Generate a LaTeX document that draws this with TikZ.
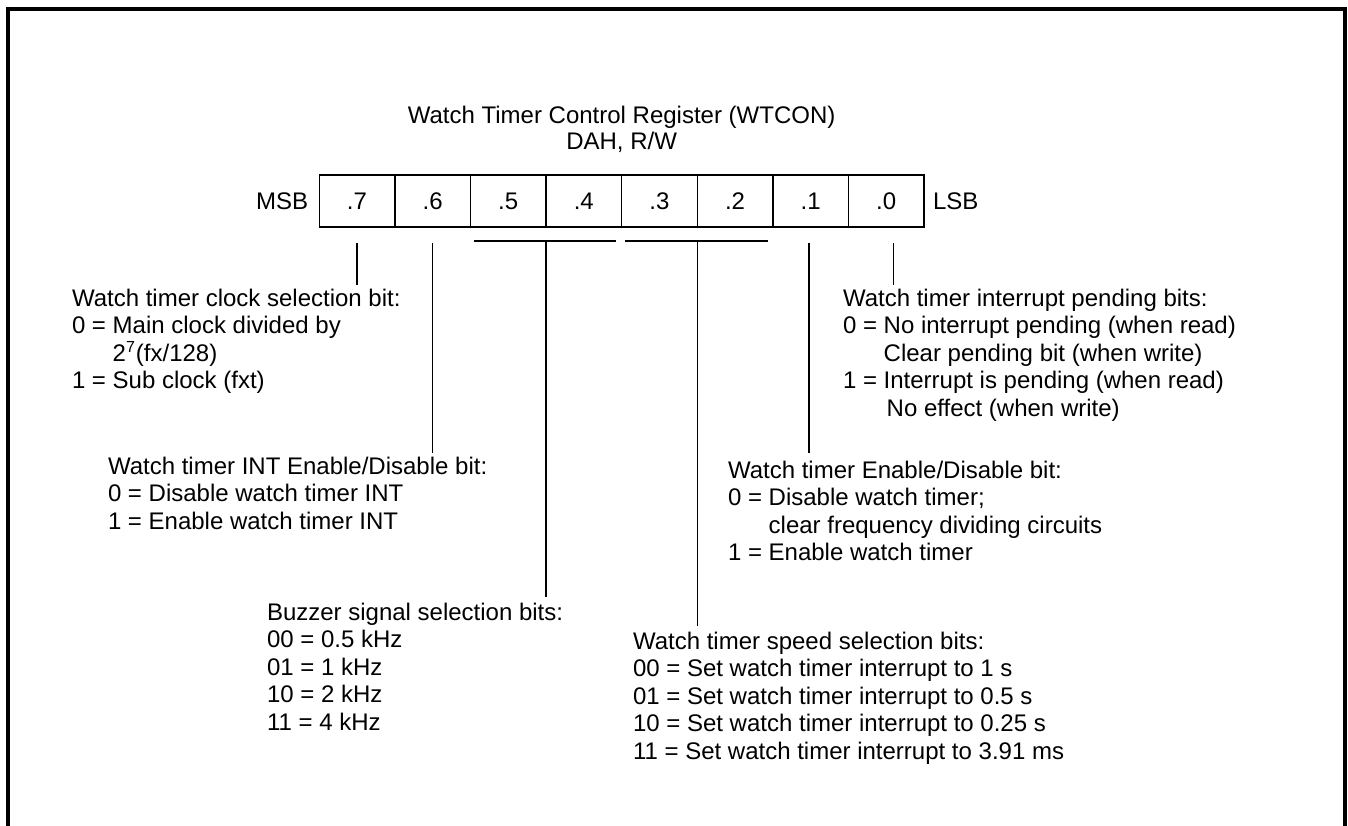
\documentclass[tikz,border=0pt]{standalone}
\usepackage{fontspec}
\setmainfont{Liberation Sans}
\usetikzlibrary{positioning}

\begin{document}
\begin{tikzpicture}[
    x=0.5pt, y=-0.5pt,
    bitcell/.style={draw, line width=0.7pt, minimum width=37.8pt, minimum height=26pt,
                    inner sep=0pt, outer sep=0pt, font=\fontsize{12}{13.75}\selectfont},
    desc/.style={anchor=north west, align=left, inner sep=0pt, outer sep=0pt,
                 font=\fontsize{12}{13.75}\selectfont},
    conn/.style={line width=0.7pt},
    node distance=0pt
  ]
    \useasboundingbox (0,0) rectangle (1348,825);
    \draw[line width=1.6pt] (8,830) -- (8,9) -- (1345,9) -- (1345,830);

    % register bits
    \node[bitcell] (b7) at (357,201) {.7};
    \foreach \b in {6,...,0} {
      \pgfmathtruncatemacro\prev{\b+1}
      \node[bitcell, right=of b\prev] (b\b) {.\b};
    }
    \node[desc, anchor=east, left=5.5pt of b7] (msb) {MSB};
    \node[desc, anchor=west, right=4.5pt of b0] (lsb) {LSB};
    \node[desc, anchor=south, align=center, font=\fontsize{12}{13}\selectfont]
      (title) at ([yshift=11pt]b4.north east) {Watch Timer Control Register (WTCON)\\DAH, R/W};

    % bit descriptions
    \node[desc] (clk) at (72,289) {Watch timer clock selection bit:\\
      0 = Main clock divided by\\
      \phantom{0 = }2\textsuperscript{7}(fx/128)\\
      1 = Sub clock (fxt)};
    \node[desc] (inten) at (108,457) {Watch timer INT Enable/Disable bit:\\
      0 = Disable watch timer INT\\
      1 = Enable watch timer INT};
    \node[desc] (buz) at (267,603) {Buzzer signal selection bits:\\
      00 = 0.5 kHz\\
      01 = 1 kHz\\
      10 = 2 kHz\\
      11 = 4 kHz};
    \node[desc] (spd) at (633,632) {Watch timer speed selection bits:\\
      00 = Set watch timer interrupt to 1 s\\
      01 = Set watch timer interrupt to 0.5 s\\
      10 = Set watch timer interrupt to 0.25 s\\
      11 = Set watch timer interrupt to 3.91 ms};
    \node[desc] (wten) at (728,461) {Watch timer Enable/Disable bit:\\
      0 = Disable watch timer;\\
      \phantom{0 = }clear frequency dividing circuits\\
      1 = Enable watch timer};
    \node[desc] (pnd) at (843,289) {Watch timer interrupt pending bits:\\
      0 = No interrupt pending (when read)\\
      \phantom{0 = }Clear pending bit (when write)\\
      1 = Interrupt is pending (when read)\\
      \phantom{1 = }\hspace{1.5pt}No effect (when write)};

    % leader lines
    \coordinate (d7) at ([yshift=-8pt]b7.south);
    \coordinate (d6) at ([yshift=-8pt]b6.south);
    \coordinate (d1) at ([xshift=-0.8pt,yshift=-8pt]b1.south);
    \coordinate (d0) at ([xshift=3.5pt,yshift=-8pt]b0.south);
    \coordinate (g54) at ([yshift=-7pt]b5.south east);
    \coordinate (g32) at ([yshift=-7pt]b3.south east);
    \draw[conn] ([xshift=2pt,yshift=-7pt]b5.south west) -- ([xshift=-2.75pt,yshift=-7pt]b4.south east);
    \draw[conn] ([xshift=1.75pt,yshift=-7pt]b3.south west) -- ([xshift=-2.4pt,yshift=-7pt]b2.south east);
    \draw[conn, shorten >=2pt] (d7) -- (d7 |- clk.north);
    \draw[conn, shorten >=2pt] (d6) -- (d6 |- inten.north);
    \draw[conn, shorten >=3pt] (g54) -- (g54 |- buz.north);
    \draw[conn, shorten >=3pt] (g32) -- (g32 |- spd.north);
    \draw[conn, shorten >=4pt] (d1) -- (d1 |- wten.north);
    \draw[conn, shorten >=2pt] (d0) -- (d0 |- pnd.north);
  \end{tikzpicture}
\end{document}
